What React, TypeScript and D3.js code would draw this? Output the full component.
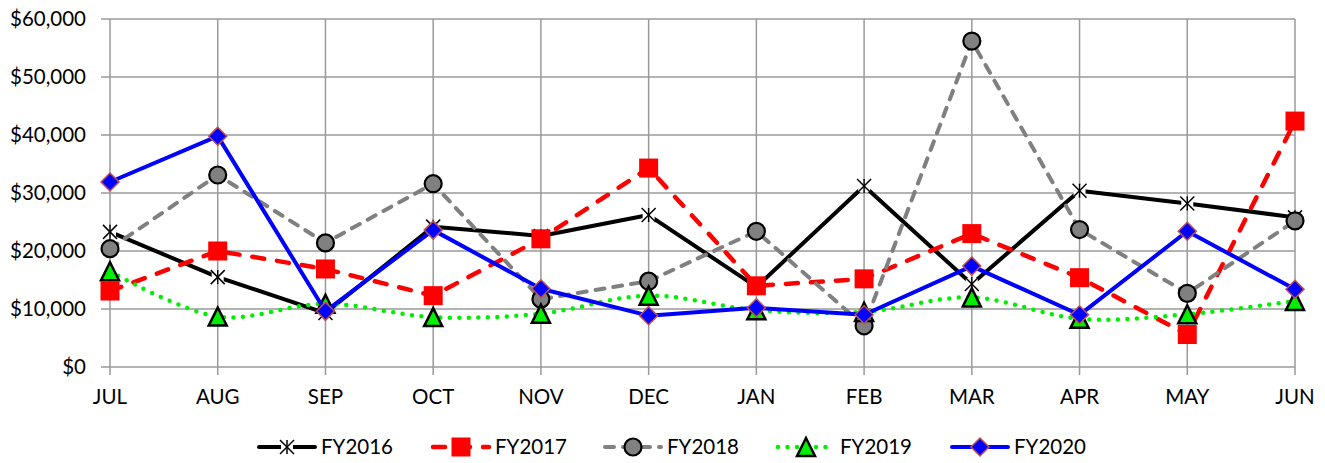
import React from "react";
import * as d3 from "d3";

const months = ["JUL","AUG","SEP","OCT","NOV","DEC","JAN","FEB","MAR","APR","MAY","JUN"];
const yTicks = [0,10000,20000,30000,40000,50000,60000];

const fy2016 = [23300,15500,9300,24200,22600,26200,13800,31200,14300,30400,28200,25800];
const fy2017 = [13100,20000,16900,12300,22100,34300,14000,15200,23000,15400,5600,42400];
const fy2018 = [20400,33100,21400,31600,11700,14800,23400,7100,56200,23700,12700,25200];
const fy2019 = [16500,8700,10900,8600,9200,12300,9800,9500,12000,8300,9100,11400];
const fy2020 = [31900,39800,9600,23600,13500,8850,10200,9000,17400,9000,23400,13400];

const seriesNames = ["FY2016","FY2017","FY2018","FY2019","FY2020"];

const W = 1325, H = 463;
const left = 110, right = 1295, top = 19, bottom = 367;
const FONT = "Lato, 'Liberation Sans', Arial, sans-serif";
const FS = 20.5;

type Style = {
  name: string; data: number[]; color: string; width: number; dash?: string; cap?: "round"|"butt";
  smooth?: boolean; marker: string;
};

const styles: Style[] = [
  { name: seriesNames[0], data: fy2016, color: "#000000", width: 4, marker: "star" },
  { name: seriesNames[1], data: fy2017, color: "#ff0000", width: 4.5, dash: "12 13", cap: "round", marker: "square" },
  { name: seriesNames[2], data: fy2018, color: "#808080", width: 4, dash: "9 9", cap: "round", marker: "circle" },
  { name: seriesNames[3], data: fy2019, color: "#00ee00", width: 4.5, dash: "0 9.5", cap: "round", smooth: true, marker: "triangle" },
  { name: seriesNames[4], data: fy2020, color: "#0000ff", width: 4, marker: "diamond" },
];

function Marker({ kind, x, y }: { kind: string; x: number; y: number }) {
  if (kind === "star") {
    const s = 7;
    return (
      <g>
        <rect x={x - 6} y={y - 6} width={12} height={12} fill="#fff" />
        <g stroke="#000" strokeWidth={1.5} fill="none">
          <line x1={x - s} y1={y - s} x2={x + s} y2={y + s} />
          <line x1={x - s} y1={y + s} x2={x + s} y2={y - s} />
          <line x1={x} y1={y - s} x2={x} y2={y + s} />
        </g>
      </g>
    );
  }
  if (kind === "square") {
    const s = 9.5;
    return <rect x={x - s} y={y - s} width={2 * s} height={2 * s} fill="#ff0000" />;
  }
  if (kind === "circle") {
    return <circle cx={x} cy={y} r={8.5} fill="#808080" stroke="#000" strokeWidth={2.2} />;
  }
  if (kind === "triangle") {
    const s = 9;
    const p = `${x},${y - s} ${x + s},${y + s} ${x - s},${y + s}`;
    return <polygon points={p} fill="#00ee00" stroke="#000" strokeWidth={2.5} strokeLinejoin="miter" />;
  }
  const s = 9;
  const p = `${x},${y - s} ${x + s},${y} ${x},${y + s} ${x - s},${y}`;
  return <polygon points={p} fill="#0000ff" stroke="#c0504d" strokeWidth={1.5} />;
}

export default function App() {
  const x = d3.scalePoint<string>().domain(months).range([left, right]);
  const y = d3.scaleLinear().domain([0, 60000]).range([bottom, top]);
  const fmt = (v: number) => "$" + d3.format(",")(v);

  const legendStarts = [257, 431, 603, 776, 950];
  const legendY = 447;

  return (
    <div style={{ position: "absolute", left: 0, top: 0 }}>
      <svg width={W} height={H} style={{ display: "block", background: "#fff" }}>
        <rect x={0} y={0} width={W} height={H} fill="#fff" />
        <g stroke="#9a9a9a" strokeWidth={1.5}>
          {yTicks.map((t) => (
            <line key={"h" + t} x1={left - 9} x2={right} y1={y(t)} y2={y(t)} />
          ))}
          {months.map((m) => (
            <line key={"v" + m} x1={x(m)!} x2={x(m)!} y1={top} y2={bottom + 8} />
          ))}
        </g>
        <g fontFamily={FONT} fontSize={FS} fill="#000" textAnchor="end">
          {yTicks.map((t) => (
            <text key={"yl" + t} x={86} y={y(t) + 7}>{fmt(t)}</text>
          ))}
        </g>
        <g fontFamily={FONT} fontSize={FS} fill="#000" textAnchor="middle">
          {months.map((m) => (
            <text key={"xl" + m} x={x(m)!} y={404}>{m}</text>
          ))}
        </g>
        {styles.map((s) => {
          const line = d3
            .line<number>()
            .x((_, i) => x(months[i])!)
            .y((v) => y(v))
            .curve(s.smooth ? d3.curveCatmullRom.alpha(0.5) : d3.curveLinear);
          return (
            <g key={s.name}>
              <path
                d={line(s.data) || ""}
                fill="none"
                stroke={s.color}
                strokeWidth={s.width}
                strokeDasharray={s.dash}
                strokeLinecap={s.cap || "butt"}
                strokeLinejoin="round"
              />
              {s.data.map((v, i) => (
                <Marker key={i} kind={s.marker} x={x(months[i])!} y={y(v)} />
              ))}
            </g>
          );
        })}
        {styles.map((s, i) => {
          const x0 = legendStarts[i];
          const mid = x0 + 30;
          return (
            <g key={"lg" + s.name}>
              <line
                x1={x0 + 2}
                x2={x0 + 58}
                y1={legendY}
                y2={legendY}
                stroke={s.color}
                strokeWidth={s.width}
                strokeDasharray={s.dash}
                strokeLinecap={s.cap || "round"}
              />
              <Marker kind={s.marker} x={mid} y={legendY} />
              <text x={x0 + 64} y={legendY + 7} fontFamily={FONT} fontSize={FS} fill="#000">
                {s.name}
              </text>
            </g>
          );
        })}
      </svg>
    </div>
  );
}
